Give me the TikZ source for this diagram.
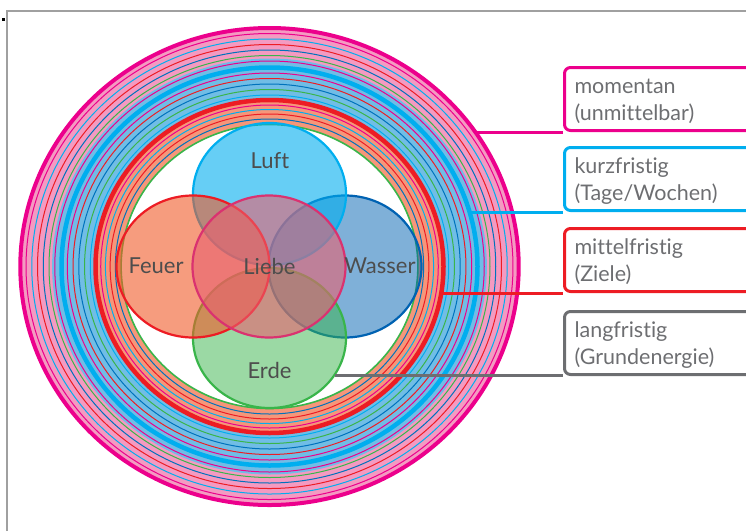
\documentclass[tikz,border=0pt]{standalone}
\usepackage{fontspec}
\setmainfont{Lato}[Ligatures={NoCommon}]
\usepackage{tikz}
\usetikzlibrary{shapes.geometric, positioning}
\definecolor{ringpink}{RGB}{236,0,140}
\definecolor{ringcyan}{RGB}{0,174,239}
\definecolor{ringred}{RGB}{237,28,36}
\definecolor{ringgreen}{RGB}{57,181,74}
\definecolor{ringblue}{RGB}{0,114,188}
\definecolor{bandpink}{RGB}{244,154,193}
\definecolor{bandblue}{RGB}{112,189,230}
\definecolor{bandsalmon}{RGB}{246,150,121}
\definecolor{framegray}{RGB}{160,160,160}
\definecolor{boxgray}{RGB}{109,110,113}
\definecolor{textgray}{RGB}{77,77,77}
\definecolor{fireorange}{RGB}{240,90,40}
\definecolor{waterblue}{RGB}{0,98,178}
\definecolor{earthgreen}{RGB}{57,181,74}
\definecolor{lovepink}{RGB}{232,96,112}
\definecolor{loveline}{RGB}{218,50,112}

\begin{document}
\begin{tikzpicture}[x=1pt, y=-1pt,
    element/.style={ellipse, inner sep=0pt, minimum width=153pt, minimum height=142pt, line width=2.2pt},
    elemlabel/.style={font=\fontsize{22}{26}\selectfont, text=textgray, inner sep=0pt},
    infobox/.style={draw=#1, line width=3pt, rounded corners=6pt, anchor=south west,
      minimum width=200pt, text height=26pt, text depth=37pt, inner ysep=0pt,
      text width=180pt, inner xsep=10pt,
      align=left, text=boxgray, font=\fontsize{21.5}{27}\selectfont},
    link/.style={line width=3pt}]
  \useasboundingbox (0,0) rectangle (746,531);
  \clip (0,0) rectangle (746,531);

  % frame
  \draw[framegray, line width=2pt] (7,531) -- (7,11) -- (746,11);
  \fill[black] (2,18) rectangle (4.5,20.5);

  % time rings
  \fill[bandpink] (269.5,266.5) ellipse [x radius=249.2, y radius=238.5];
  \fill[bandblue] (269.5,266.5) ellipse [x radius=217.4, y radius=208];
  \fill[bandsalmon] (269.5,266.5) ellipse [x radius=174, y radius=166.5];
  \fill[white] (269.5,266.5) ellipse [x radius=148.4, y radius=142];
  \foreach \r/\c in {233/ringpink, 227.5/ringcyan, 222/ringred, 216.5/ringblue, 211/ringgreen, 205.5/ringpink,
                     193.5/ringpink, 188/ringred, 182.5/ringblue, 177/ringgreen, 171.5/ringcyan,
                     161.5/ringpink, 157/ringcyan, 152.5/ringred, 147.5/ringblue}
    \draw[\c, line width=1pt] (269.5,266.5) ellipse [x radius={1.045*\r}, y radius=\r];
  \draw[ringgreen, line width=1.6pt] (269.5,266.5) ellipse [x radius=148.4, y radius=142];
  \draw[ringpink, line width=4pt] (269.5,266.5) ellipse [x radius=249.2, y radius=238.5];
  \draw[ringcyan, line width=4.5pt] (269.5,266.5) ellipse [x radius=208, y radius=199];
  \draw[ringred, line width=4.5pt] (269.5,266.5) ellipse [x radius=174, y radius=166.5];

  \coordinate (mompt) at (475.5,132);
  \coordinate (kurzpt) at (470,212);
  \coordinate (mittelpt) at (441.5,293);

  % elements
  \node[element, draw=waterblue, fill=waterblue, fill opacity=.5] (wasser) at (345,266.5) {};
  \node[element, draw=ringcyan, fill=ringcyan, fill opacity=.6] (luft) at (269.5,194) {};
  \node[element, draw=earthgreen, fill=earthgreen, fill opacity=.5, minimum height=140pt] (erde) at (269.5,338) {};
  \node[element, draw=ringred, fill=fireorange, fill opacity=.6] (feuer) at (193,266.5) {};
  \node[element, draw=loveline, fill=lovepink, fill opacity=.6] (liebe) at (269,266.5) {};

  \node[elemlabel] (luftlbl) at (270,161) {Luft};
  \node[elemlabel] (feuerlbl) at (156,266) {Feuer};
  \node[elemlabel] (liebelbl) at (269.5,266) {Liebe};
  \node[elemlabel] (wasserlbl) at (380,266) {Wasser};
  \node[elemlabel] (erdelbl) at (269.5,370) {Erde};

  % legend boxes
  \node[infobox=ringpink] (mombox) at (563,132) {momentan\\(unmittelbar)};
  \node[infobox=ringcyan] (kurzbox) at (563,212) {kurzfristig\\(Tage/Wochen)};
  \node[infobox=ringred] (mittelbox) at (563,293) {mittelfristig\\(Ziele)};
  \node[infobox=boxgray] (langbox) at (563,376) {langfristig\\(Grundenergie)};

  \draw[link, ringpink] (mompt) -- (mombox.south west);
  \draw[link, ringcyan] (kurzpt) -- (kurzbox.south west);
  \draw[link, ringred] (mittelpt) -- (mittelbox.south west);
  \draw[link, boxgray] (erde.-30.6) -- (erde.-30.6 -| langbox.south west);
\end{tikzpicture}
\end{document}
